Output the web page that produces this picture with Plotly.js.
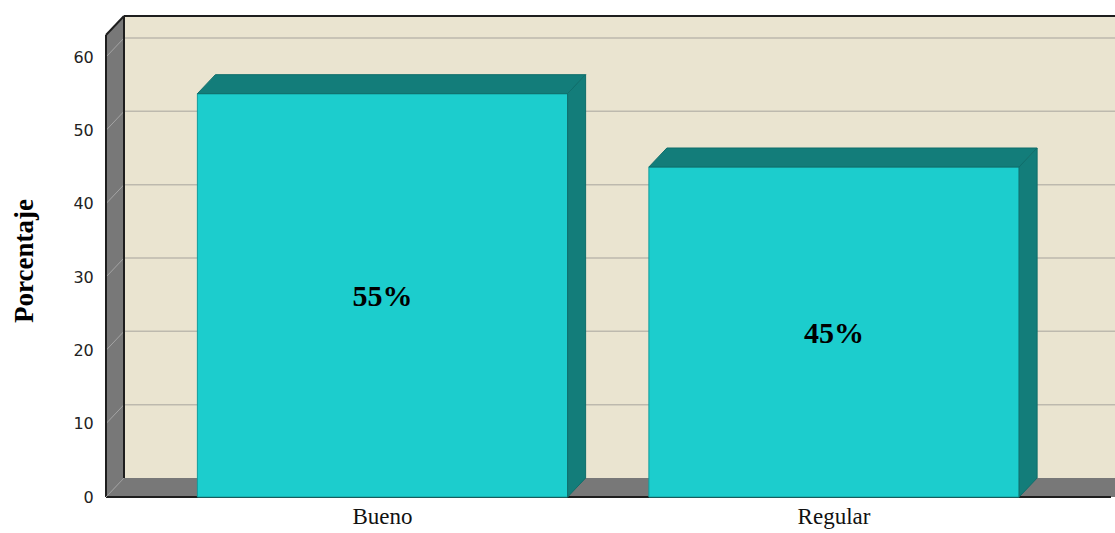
<!DOCTYPE html>
<html>
<head>
<meta charset="utf-8">
<script src="https://cdn.plot.ly/plotly-3.0.1.min.js"></script>
<style>html,body{margin:0;padding:0;background:#fff;}#chart{width:1115px;height:533px;}</style>
</head>
<body>
<div id="chart"></div>
<script>
// ---- data ----
const categories = ['Bueno', 'Regular'];
const values = [55, 45];
const yTicks = [0, 10, 20, 30, 40, 50, 60];
const yTitle = 'Porcentaje';

// ---- layout geometry (pixels) ----
const W = 1115, H = 533;
const mL = 100, mR = 0, mT = 14, mB = 33;
const pxPerY = 7.333;          // pixels per y unit
const pxPerX = 451.5;          // pixels per category step
const zeroPx = 497;            // pixel row of y = 0 (front)
const cat0Px = 382.5;          // pixel column of first category centre
const plotBottom = H - mB;
const yRange = [-(plotBottom - zeroPx) / pxPerY, (zeroPx - mT) / pxPerY];
const xRange = [(mL - cat0Px) / pxPerX, (W - mR - cat0Px) / pxPerX];
const dx = 18 / pxPerX;        // depth offset in x units
const dy = 19 / pxPerY;        // depth offset in y units
const barW = 0.82;
const frontLeft = (106 - cat0Px) / pxPerX;
const frontRight = (1111 - cat0Px) / pxPerX;
const wallTop = 63;
const farRight = xRange[1] + 0.2;

const xs = categories.map((c, i) => i);

const wallColor = '#EAE4D0';
const sideGray = '#787878';
const faceColor = '#1CCDCD';
const darkFace = '#137D7A';

const shapes = [];
// back wall
shapes.push({type: 'rect', xref: 'x', yref: 'y', layer: 'below',
  x0: frontLeft + dx, x1: farRight, y0: dy, y1: wallTop + dy,
  fillcolor: wallColor, line: {width: 0}});
// left wall
shapes.push({type: 'path', xref: 'x', yref: 'y', layer: 'below',
  path: `M${frontLeft},0 L${frontLeft + dx},${dy} L${frontLeft + dx},${wallTop + dy} L${frontLeft},${wallTop} Z`,
  fillcolor: sideGray, line: {width: 0}});
// floor
shapes.push({type: 'path', xref: 'x', yref: 'y', layer: 'below',
  path: `M${frontLeft},0 L${frontLeft + dx},${dy} L${farRight},${dy} L${farRight},0 Z`,
  fillcolor: sideGray, line: {width: 0}});
// grid lines (back wall + left wall diagonals)
yTicks.filter(t => t > 0).forEach(t => {
  shapes.push({type: 'line', xref: 'x', yref: 'y', layer: 'below',
    x0: frontLeft + dx, x1: farRight, y0: t + dy, y1: t + dy,
    line: {color: '#BDB9AE', width: 1.5}});
  shapes.push({type: 'line', xref: 'x', yref: 'y', layer: 'below',
    x0: frontLeft, x1: frontLeft + dx, y0: t, y1: t + dy,
    line: {color: '#A4A4A4', width: 1}});
});
// dark edges
const edge = {color: '#1E1E1E', width: 2};
shapes.push({type: 'line', xref: 'x', yref: 'y', layer: 'below', x0: frontLeft, x1: frontLeft, y0: 0, y1: wallTop, line: edge});
shapes.push({type: 'line', xref: 'x', yref: 'y', layer: 'below', x0: frontLeft + dx, x1: frontLeft + dx, y0: dy, y1: wallTop + dy, line: edge});
shapes.push({type: 'line', xref: 'x', yref: 'y', layer: 'below', x0: frontLeft, x1: frontLeft + dx, y0: wallTop, y1: wallTop + dy, line: edge});
shapes.push({type: 'line', xref: 'x', yref: 'y', layer: 'below', x0: frontLeft + dx, x1: farRight, y0: wallTop + dy, y1: wallTop + dy, line: edge});
shapes.push({type: 'line', xref: 'x', yref: 'y', layer: 'below', x0: frontLeft, x1: frontRight, y0: 0, y1: 0, line: edge});
shapes.push({type: 'line', xref: 'x', yref: 'y', layer: 'below', x0: frontLeft, x1: frontLeft + dx, y0: 0, y1: dy, line: {color: '#9A9A9A', width: 1}});

// ---- traces ----
const traces = [];
traces.push({
  type: 'bar', x: xs, y: values, width: barW,
  marker: {color: faceColor, line: {color: '#129C9C', width: 1}},
  texttemplate: '%{y}%', textposition: 'inside', insidetextanchor: 'middle', textangle: 0,
  textfont: {family: 'Liberation Serif, Times New Roman, serif', size: 30, color: '#000', weight: 'bold'},
  hoverinfo: 'skip', showlegend: false
});
xs.forEach((x, i) => {
  const v = values[i];
  const l = x - barW / 2, r = x + barW / 2;
  // top face
  traces.push({type: 'scatter', mode: 'lines', fill: 'toself', fillcolor: darkFace,
    x: [l, l + dx, r + dx, r, l], y: [v, v + dy, v + dy, v, v],
    line: {color: '#0F6E6B', width: 1}, hoverinfo: 'skip', showlegend: false});
  // side face
  traces.push({type: 'scatter', mode: 'lines', fill: 'toself', fillcolor: darkFace,
    x: [r, r, r + dx, r + dx, r], y: [0, v, v + dy, dy, 0],
    line: {color: '#0F6E6B', width: 1}, hoverinfo: 'skip', showlegend: false});
});

const layout = {
  width: W, height: H,
  margin: {l: mL, r: mR, t: mT, b: mB, pad: 0},
  paper_bgcolor: '#ffffff', plot_bgcolor: '#ffffff',
  showlegend: false,
  xaxis: {range: xRange, tickvals: xs, ticktext: categories, showgrid: false, zeroline: false,
    showline: false, ticks: '', ticklen: 0,
    tickfont: {family: 'Liberation Serif, Times New Roman, serif', size: 23, color: '#111'}, fixedrange: true},
  yaxis: {range: yRange, tickvals: yTicks, showgrid: false, zeroline: false, showline: false,
    ticks: 'outside', ticklen: 2, tickcolor: 'rgba(0,0,0,0)',
    tickfont: {family: 'DejaVu Sans, Verdana, sans-serif', size: 16, color: '#222'}, fixedrange: true},
  shapes: shapes,
  annotations: [{text: yTitle, xref: 'paper', yref: 'paper', x: (24 - mL) / (W - mL - mR), y: (plotBottom - 261) / (H - mT - mB),
    xanchor: 'center', yanchor: 'middle', textangle: -90, showarrow: false,
    font: {family: 'Liberation Serif, Times New Roman, serif', size: 27, color: '#000', weight: 'bold'}}]
};

Plotly.newPlot('chart', traces, layout, {displayModeBar: false, staticPlot: true});
</script>
</body>
</html>
